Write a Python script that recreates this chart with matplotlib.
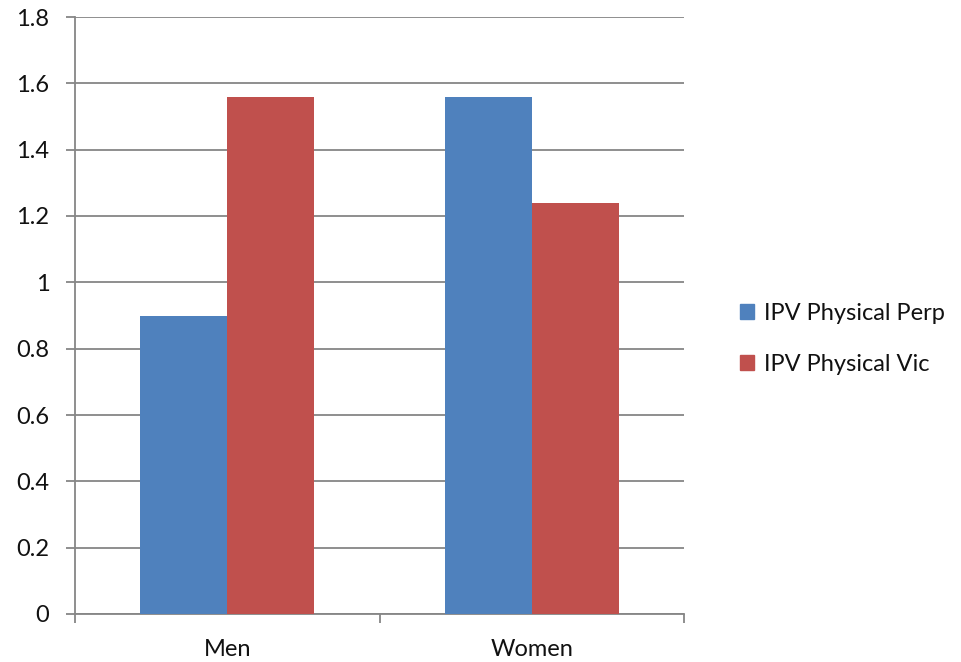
import numpy as np
import matplotlib
matplotlib.use("Agg")
import matplotlib.pyplot as plt
from matplotlib.patches import Patch

categories = ["Men", "Women"]
perp_values = [0.90, 1.56]
vic_values = [1.56, 1.24]
series_names = ["IPV Physical Perp", "IPV Physical Vic"]
y_ticks = [0, 0.2, 0.4, 0.6, 0.8, 1, 1.2, 1.4, 1.6, 1.8]
y_labels = ["0", "0.2", "0.4", "0.6", "0.8", "1", "1.2", "1.4", "1.6", "1.8"]

BLUE = "#4f81bd"
RED = "#c0504d"
GRID = "#868686"

plt.rcParams["font.family"] = ["Lato", "DejaVu Sans"]

fig = plt.figure(figsize=(9.61, 6.62), dpi=100, facecolor="white")
ax = fig.add_axes([75 / 961, 48 / 662, 609 / 961, 597 / 662])

x = np.arange(len(categories))
w = 1 / 3.5
ax.bar(x - w / 2, perp_values, width=w, color=BLUE, zorder=3)
ax.bar(x + w / 2, vic_values, width=w, color=RED, zorder=3)

ax.set_xlim(-0.5, len(categories) - 0.5)
ax.set_ylim(0, 1.8)
ax.set_yticks(y_ticks)
ax.set_yticklabels(y_labels)
ax.yaxis.grid(True, color=GRID, linewidth=1.3, zorder=0)

ax.set_xticks([-0.5, 0.5, 1.5])
ax.set_xticklabels([])
ax.set_xticks(x, minor=True)
ax.set_xticklabels(categories, minor=True)
ax.tick_params(axis="x", which="minor", length=0, pad=18, labelsize=17, labelcolor="#111111")
ax.tick_params(axis="x", which="major", length=6.5, width=1.3, color=GRID, direction="out")
ax.tick_params(axis="y", length=6.5, width=1.3, color=GRID, pad=12, labelsize=17,
               labelcolor="#111111")

for side in ["top", "right"]:
    ax.spines[side].set_visible(False)
for side in ["left", "bottom"]:
    ax.spines[side].set_color(GRID)
    ax.spines[side].set_linewidth(1.3)

handles = [Patch(color=BLUE), Patch(color=RED)]
leg = fig.legend(handles, series_names, loc="center left",
                 bbox_to_anchor=(719 / 961, 1 - 339 / 662),
                 frameon=False, fontsize=17, handlelength=0.6, handleheight=0.6,
                 handletextpad=0.4, labelspacing=1.25)
for t in leg.get_texts():
    t.set_color("#111111")

fig.savefig("out.png", dpi=100, facecolor="white")
